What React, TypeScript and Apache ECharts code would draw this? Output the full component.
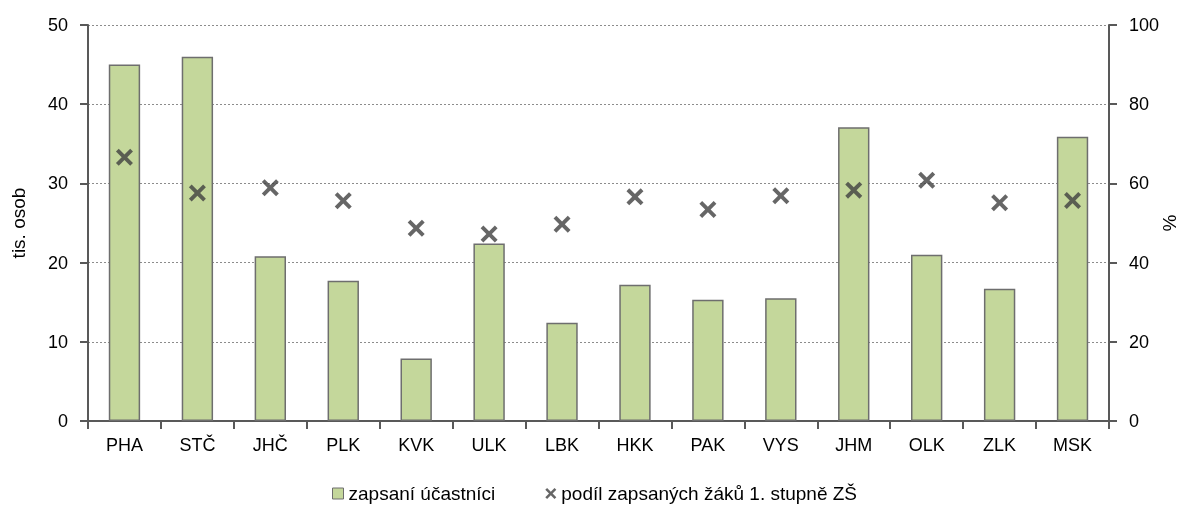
import React, { useEffect, useRef } from "react";
import * as echarts from "echarts";

const categories = ["PHA", "STČ", "JHČ", "PLK", "KVK", "ULK", "LBK", "HKK", "PAK", "VYS", "JHM", "OLK", "ZLK", "MSK"];
const enrolled = [45.0, 46.0, 20.8, 17.7, 7.9, 22.4, 12.4, 17.2, 15.3, 15.5, 37.1, 21.0, 16.7, 35.9];
const sharePct = [66.6, 57.6, 58.9, 55.6, 48.7, 47.2, 49.7, 56.6, 53.4, 56.9, 58.3, 60.8, 55.1, 55.7];
const leftTicks = { min: 0, max: 50, interval: 10 };
const rightTicks = { min: 0, max: 100, interval: 20 };
const seriesNames = ["zapsaní účastníci", "podíl zapsaných žáků 1. stupně ZŠ"];

const xPath = "path://M0,2.6 L2.6,0 L8,5.4 L13.4,0 L16,2.6 L10.6,8 L16,13.4 L13.4,16 L8,10.6 L2.6,16 L0,13.4 L5.4,8 Z";

export default function App() {
  const ref = useRef<HTMLDivElement>(null);
  useEffect(() => {
    if (!ref.current) return;
    const chart = echarts.init(ref.current, undefined, { renderer: "svg" });
    const font = "Liberation Sans, Arial, sans-serif";
    const axisCol = "#595959";
    chart.setOption({
      animation: false,
      textStyle: { fontFamily: font, color: "#000" },
      grid: { left: 88, right: 71, top: 25, bottom: 85, containLabel: false, outerBoundsMode: "none" },
      legend: {
        top: 479,
        left: 327,
        itemGap: 50,
        itemWidth: 11,
        itemHeight: 11,
        textStyle: { fontSize: 19, color: "#000", fontFamily: font },
        data: [
          { name: seriesNames[0], icon: "rect", itemStyle: { color: "#c4d79b", borderColor: "#6e6e6e", borderWidth: 1 } },
          { name: seriesNames[1], icon: xPath, itemStyle: { color: "#404040" } },
        ],
      },
      xAxis: [
        {
          type: "category",
          data: categories,
          axisLine: { lineStyle: { color: axisCol, width: 2 } },
          axisTick: { show: true, length: 8, lineStyle: { color: axisCol, width: 2 } },
          axisLabel: { fontSize: 18, color: "#000", margin: 15 },
        },
        {
          type: "category",
          data: categories,
          position: "top",
          axisLine: { lineStyle: { color: axisCol, width: 2 } },
          axisTick: { show: false },
          axisLabel: { show: false },
        },
      ],
      yAxis: [
        {
          type: "value",
          ...leftTicks,
          name: "tis. osob",
          nameLocation: "middle",
          nameGap: 60,
          nameMoveOverlap: false,
          nameTextStyle: { fontSize: 19, color: "#000" },
          axisLine: { show: true, lineStyle: { color: axisCol, width: 2 } },
          axisTick: { show: true, length: 8, lineStyle: { color: axisCol, width: 2 } },
          axisLabel: { fontSize: 18, color: "#000", margin: 20 },
          splitLine: { show: true, lineStyle: { color: "#8c8c8c", type: [2, 2], width: 1 } },
        },
        {
          type: "value",
          ...rightTicks,
          name: "%",
          nameLocation: "middle",
          nameGap: 51,
          nameRotate: 90,
          nameMoveOverlap: false,
          nameTextStyle: { fontSize: 19, color: "#000" },
          axisLine: { show: true, lineStyle: { color: axisCol, width: 2 } },
          axisTick: { show: true, length: 8, lineStyle: { color: axisCol, width: 2 } },
          axisLabel: { fontSize: 18, color: "#000", margin: 20 },
          splitLine: { show: false },
        },
      ],
      series: [
        {
          name: seriesNames[0],
          type: "bar",
          data: enrolled,
          barWidth: "43%",
          itemStyle: { color: "#c4d79b", borderColor: "#6e6e6e", borderWidth: 1.5 },
          z: 2,
        },
        {
          name: seriesNames[1],
          type: "scatter",
          yAxisIndex: 1,
          data: sharePct,
          symbol: xPath,
          symbolSize: 17,
          itemStyle: { color: "#404040" },
          z: 3,
        },
      ],
    });
    return () => chart.dispose();
  }, []);
  return <div ref={ref} style={{ position: "fixed", left: 0, top: 0, width: 1180, height: 506 }} />;
}
